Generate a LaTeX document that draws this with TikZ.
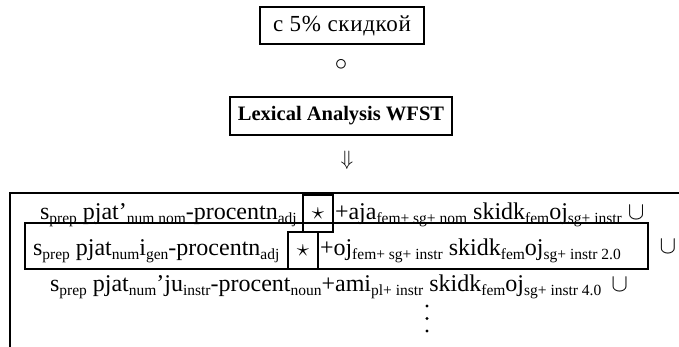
\documentclass[tikz,border=0pt]{standalone}
\usepackage{fontspec}
\setmainfont{Liberation Serif}
\newfontfamily\cyrfont[LetterSpace=3]{Liberation Serif}
\newcommand\sbs[1]{\raisebox{-4.5pt}{\fontsize{15.5}{15.5}\selectfont #1}}
\begin{document}
\begin{tikzpicture}[x=1pt,y=-1pt,
  bigtxt/.style={font=\fontsize{24}{26}\selectfont, inner sep=0pt, outer sep=0pt},
  framebox/.style={draw, line width=2pt, inner sep=0pt},
  starbox/.style={draw, line width=2pt, inner sep=0pt, minimum width=30pt, minimum height=37pt, font=\fontsize{26}{26}\selectfont},
  dotmark/.style={circle, fill, inner sep=0pt, minimum size=3.2pt}]
\useasboundingbox (0,0) rectangle (679,347);
% top
\node[framebox, minimum width=164pt, minimum height=37pt, font=\fontsize{23}{24}\selectfont] (inp) at (342,25.5) {\cyrfont с 5\% скидкой};
\node[font=\fontsize{24}{24}\selectfont] (comp) at (341,65) {$\circ$};
\node[framebox, minimum width=222pt, minimum height=38pt, font=\fontsize{20.5}{22}\bfseries\selectfont] (lex) at (341,116) {Lexical Analysis WFST};
\node[font=\fontsize{22}{22}\selectfont] (arr) at (347,160) {$\Downarrow$};
% frame
\coordinate (fbl) at (10,347);
\coordinate (ftl) at (10,193);
\coordinate (ftr) at (679,193);
\draw[line width=2pt] (fbl) -- (ftl) -- (ftr);
% row 1
\node[bigtxt, anchor=base west] (r1a) at (40,219) {s\sbs{prep} pjat’\sbs{num nom}-procentn\sbs{adj}};
\node[starbox] (s1) at (318,213.5) {$\star$};
\node[bigtxt, anchor=base west] (r1b) at (335,219) {+aja\sbs{fem+ sg+ nom} skidk\sbs{fem}oj\sbs{sg+ instr}\hspace{6pt}$\cup$};
% row 2
\node[framebox, minimum width=623pt, minimum height=46pt] (r2box) at (336.5,246) {};
\node[bigtxt, anchor=base west] (r2a) at (33,255) {s\sbs{prep} pjat\sbs{num}i\sbs{gen}-procentn\sbs{adj}};
\node[starbox] (s2) at (303,250.5) {$\star$};
\node[bigtxt, anchor=base west] (r2b) at (320,255) {+oj\sbs{fem+ sg+ instr} skidk\sbs{fem}oj\sbs{sg+ instr 2.0}};
\node[bigtxt] (u2) at (668,247) {$\cup$};
% row 3
\node[bigtxt, anchor=base west] (r3) at (50,291) {s\sbs{prep} pjat\sbs{num}’ju\sbs{instr}-procent\sbs{noun}+ami\sbs{pl+ instr} skidk\sbs{fem}oj\sbs{sg+ instr 4.0}\hspace{10pt}$\cup$};
% dots
\node[dotmark] (d1) at (427,306) {};
\node[dotmark] (d2) at (427,318.5) {};
\node[dotmark] (d3) at (427,331) {};
\end{tikzpicture}
\end{document}
